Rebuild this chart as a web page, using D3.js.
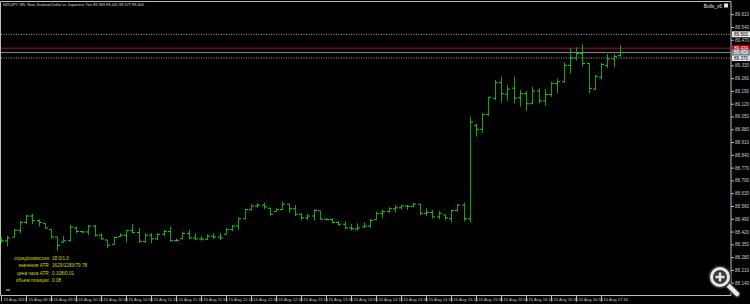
<!DOCTYPE html>
<html>
<head>
<meta charset="utf-8">
<script src="https://cdn.jsdelivr.net/npm/d3@7"></script>
<style>
  html, body { margin: 0; padding: 0; background: #000; }
  svg { display: block; font-family: "Liberation Sans", Arial, sans-serif; }
</style>
</head>
<body>
<script>
// NZDJPY M5 bars, 15 Aug 2024 09:15 .. 17:30
const opens = [88.380,88.369,88.390,88.425,88.470,88.505,88.480,88.465,88.432,88.390,
  88.362,88.370,88.440,88.420,88.418,88.450,88.400,88.374,88.350,88.392,
  88.400,88.425,88.415,88.365,88.400,88.380,88.405,88.420,88.370,88.380,
  88.410,88.385,88.380,88.378,88.395,88.390,88.405,88.432,88.450,88.490,
  88.540,88.560,88.565,88.548,88.530,88.540,88.570,88.545,88.515,88.495,
  88.505,88.534,88.488,88.486,88.470,88.460,88.440,88.435,88.445,88.450,
  88.485,88.520,88.530,88.545,88.550,88.560,88.558,88.570,88.520,88.525,
  88.500,88.511,88.490,88.535,88.565,88.490,89.000,88.980,89.060,89.150,
  89.235,89.172,89.205,89.153,89.175,89.120,89.190,89.135,89.170,89.230,
  89.240,89.330,89.370,89.395,89.340,89.200,89.265,89.330,89.365,89.383];
const highs = [88.388,88.396,88.433,88.478,88.511,88.516,88.487,88.465,88.434,88.392,
  88.396,88.455,88.447,88.425,88.456,88.456,88.411,88.374,88.392,88.411,
  88.429,88.460,88.438,88.411,88.411,88.411,88.429,88.447,88.383,88.420,
  88.429,88.411,88.392,88.405,88.411,88.412,88.440,88.456,88.497,88.542,
  88.569,88.575,88.578,88.548,88.548,88.584,88.571,88.566,88.520,88.516,
  88.542,88.534,88.491,88.491,88.478,88.478,88.462,88.465,88.471,88.489,
  88.529,88.542,88.553,88.566,88.566,88.566,88.578,88.571,88.548,88.538,
  88.533,88.511,88.538,88.571,88.578,89.050,89.010,89.068,89.158,89.250,
  89.268,89.222,89.268,89.195,89.190,89.213,89.204,89.199,89.240,89.259,
  89.347,89.423,89.429,89.447,89.341,89.277,89.345,89.392,89.392,89.441];
const lows = [88.358,88.338,88.389,88.411,88.460,88.462,88.447,88.433,88.383,88.315,
  88.359,88.365,88.411,88.411,88.401,88.392,88.374,88.329,88.347,88.392,
  88.359,88.411,88.359,88.359,88.356,88.374,88.396,88.365,88.365,88.378,
  88.378,88.374,88.370,88.374,88.378,88.374,88.405,88.423,88.429,88.489,
  88.534,88.551,88.542,88.507,88.529,88.538,88.523,88.505,88.480,88.484,
  88.480,88.484,88.480,88.465,88.451,88.433,88.425,88.425,88.441,88.441,
  88.484,88.493,88.523,88.523,88.542,88.538,88.553,88.511,88.505,88.493,
  88.487,88.480,88.471,88.529,88.476,88.470,88.940,88.960,89.053,89.140,
  89.126,89.137,89.122,89.104,89.082,89.118,89.122,89.108,89.158,89.177,
  89.235,89.283,89.356,89.323,89.177,89.195,89.254,89.314,89.319,89.377];
const closes = [88.369,88.385,88.428,88.470,88.505,88.480,88.470,88.440,88.390,88.345,
  88.370,88.445,88.420,88.418,88.450,88.400,88.380,88.345,88.388,88.400,
  88.425,88.415,88.365,88.400,88.380,88.405,88.420,88.370,88.372,88.410,
  88.385,88.380,88.378,88.395,88.390,88.385,88.432,88.450,88.490,88.540,
  88.560,88.565,88.555,88.515,88.540,88.570,88.545,88.515,88.495,88.505,
  88.535,88.488,88.486,88.470,88.460,88.440,88.435,88.440,88.450,88.480,
  88.520,88.530,88.545,88.550,88.560,88.558,88.570,88.520,88.525,88.500,
  88.520,88.495,88.535,88.565,88.490,89.020,88.980,89.060,89.155,89.235,
  89.175,89.200,89.150,89.175,89.120,89.190,89.135,89.170,89.230,89.240,
  89.330,89.370,89.395,89.340,89.204,89.270,89.335,89.365,89.378,89.400];

const priceTicks = ["88.140","88.210","88.280","88.350","88.420","88.490","88.560","88.630",
  "88.700","88.770","88.840","88.910","88.980","89.050","89.120","89.190","89.260","89.330",
  "89.400","89.470","89.540","89.610"];
const timeLabels = ["15 Aug 2024","15 Aug 09:35","15 Aug 09:55","15 Aug 10:15","15 Aug 10:35",
  "15 Aug 10:55","15 Aug 11:15","15 Aug 11:35","15 Aug 11:55","15 Aug 12:15","15 Aug 12:35",
  "15 Aug 12:55","15 Aug 13:15","15 Aug 13:35","15 Aug 13:55","15 Aug 14:15","15 Aug 14:35",
  "15 Aug 14:55","15 Aug 15:15","15 Aug 15:35","15 Aug 15:55","15 Aug 16:15","15 Aug 16:35",
  "15 Aug 16:55","15 Aug 17:15"];

const dottedLevels = [89.500, 89.370];
const askPrice = 89.424;
const bidPrice = 89.400;

const infoLabels = ["спред/комиссия:", "значения ATR:", "цена часа ATR:", "объем позиции:"];
const infoValues = ["18.0/1.0", "1629/1283/79.78", "0.108/0.01", "0.08"];

const width = 750, height = 304;
const axisX = 731, axisY = 295.5;

const svg = d3.select("body").append("svg")
  .attr("width", width)
  .attr("height", height);

svg.append("rect").attr("width", width).attr("height", height).attr("fill", "#000");

const x = d3.scaleLinear().domain([0, 99]).range([1, 619.75]);
const y = d3.scaleLinear().domain([88.140, 89.610]).range([282.7, 14.2]);

// frame
svg.append("path")
  .attr("d", "M0.5," + axisY + "V1.5H" + axisX + "V" + axisY + "H0.5")
  .attr("fill", "none")
  .attr("stroke", "#bdbdbd")
  .attr("stroke-width", 1);

// price scale
const yAxis = svg.append("g")
  .attr("transform", "translate(" + axisX + ",0)")
  .call(d3.axisRight(y).tickValues(priceTicks.map(Number)).tickFormat(d3.format(".3f")).tickSize(3).tickPadding(1));
yAxis.select(".domain").remove();
yAxis.selectAll("line").attr("stroke", "#bdbdbd");
yAxis.selectAll("text").attr("fill", "#c8c8c8").style("font-size", "4.6px");

// time scale
const xAxis = svg.append("g")
  .attr("transform", "translate(0," + axisY + ")")
  .call(d3.axisBottom(x).tickValues(d3.range(0, 100, 4)).tickFormat((d, i) => timeLabels[i]).tickSize(6).tickPadding(0));
xAxis.select(".domain").remove();
xAxis.selectAll("line").attr("stroke", "#bdbdbd");
xAxis.selectAll("text")
  .attr("fill", "#c8c8c8")
  .attr("text-anchor", "start")
  .attr("x", 2)
  .attr("y", 2)
  .attr("dy", "0.9em")
  .style("font-size", "4.2px");

// horizontal levels
svg.selectAll(".lvl")
  .data(dottedLevels)
  .enter().append("line")
  .attr("class", "lvl")
  .attr("x1", 1).attr("x2", axisX)
  .attr("y1", d => y(d)).attr("y2", d => y(d))
  .attr("stroke", "#a8a8a8")
  .attr("stroke-dasharray", "1,1.5");

svg.append("line")
  .attr("x1", 1).attr("x2", axisX)
  .attr("y1", y(askPrice)).attr("y2", y(askPrice))
  .attr("stroke", "#a01818");

svg.append("line")
  .attr("x1", 1).attr("x2", axisX)
  .attr("y1", y(bidPrice)).attr("y2", y(bidPrice))
  .attr("stroke", "#7a8a9a");

// bars
const bars = svg.append("g");
d3.range(opens.length).forEach(function(i) {
  const bx = Math.round(x(i)) + 0.5;
  bars.append("line")
    .attr("x1", bx).attr("x2", bx)
    .attr("y1", y(highs[i])).attr("y2", y(lows[i]))
    .attr("stroke", "#16a016");
  bars.append("line")
    .attr("x1", bx - 2.5).attr("x2", bx)
    .attr("y1", y(opens[i])).attr("y2", y(opens[i]))
    .attr("stroke", "#22d022");
  bars.append("line")
    .attr("x1", bx).attr("x2", bx + 2.5)
    .attr("y1", y(closes[i])).attr("y2", y(closes[i]))
    .attr("stroke", "#22d022");
});

// price labels on the scale
function priceTag(p, bg, fg) {
  svg.append("rect")
    .attr("x", axisX + 1).attr("y", y(p) - 3)
    .attr("width", 18).attr("height", 6)
    .attr("fill", bg);
  svg.append("text")
    .attr("x", axisX + 3).attr("y", y(p) + 1.7)
    .attr("fill", fg)
    .style("font-size", "4.6px")
    .text(p.toFixed(3));
}
dottedLevels.forEach(p => priceTag(p, "#e6e6e6", "#000"));
priceTag(askPrice, "#c80000", "#fff");
priceTag(bidPrice, "#7a8a9a", "#fff");

// title
const last = opens.length - 1;
svg.append("text")
  .attr("x", 3).attr("y", 6)
  .attr("fill", "#d8d8d8")
  .style("font-size", "3.9px")
  .text("NZDJPY, M5:  New Zealand Dollar vs Japanese Yen  " +
    [opens[last], highs[last], lows[last], closes[last]].map(v => v.toFixed(3)).join(" "));

// expert name
svg.append("text")
  .attr("x", 722).attr("y", 7.5)
  .attr("text-anchor", "end")
  .attr("fill", "#e0e0e0")
  .style("font-size", "4.8px")
  .text("Bulls_v6");
svg.append("rect")
  .attr("x", 724).attr("y", 3.5).attr("width", 4).attr("height", 4)
  .attr("fill", "#e0e0e0");

// info panel
const info = svg.append("g");
infoLabels.forEach(function(t, i) {
  info.append("text")
    .attr("x", 50).attr("y", 259.5 + i * 7.6)
    .attr("text-anchor", "end")
    .attr("fill", "#d6d600")
    .style("font-size", "4.7px")
    .text(t);
  info.append("text")
    .attr("x", 52).attr("y", 259.5 + i * 7.6)
    .attr("fill", "#d6d600")
    .style("font-size", "4.7px")
    .text(infoValues[i]);
});
svg.append("line")
  .attr("x1", 6).attr("x2", 10).attr("y1", 290).attr("y2", 290)
  .attr("stroke", "#e0e0e0");

// magnifier overlay
const mag = svg.append("g");
mag.append("line")
  .attr("x1", 727).attr("y1", 284).attr("x2", 737).attr("y2", 294)
  .attr("stroke", "#333").attr("stroke-width", 7).attr("stroke-linecap", "round");
mag.append("line")
  .attr("x1", 727).attr("y1", 284).attr("x2", 737).attr("y2", 294)
  .attr("stroke", "#e8e8e8").attr("stroke-width", 4.5).attr("stroke-linecap", "round");
mag.append("circle").attr("cx", 720).attr("cy", 277).attr("r", 11.5).attr("fill", "#333");
mag.append("circle").attr("cx", 720).attr("cy", 277).attr("r", 10).attr("fill", "#e8e8e8");
mag.append("circle").attr("cx", 720).attr("cy", 277).attr("r", 7).attr("fill", "#3a3a3a");
mag.append("path")
  .attr("d", "M720,272.5V281.5M715.5,277H724.5")
  .attr("stroke", "#e8e8e8").attr("stroke-width", 2.4);
</script>
</body>
</html>
